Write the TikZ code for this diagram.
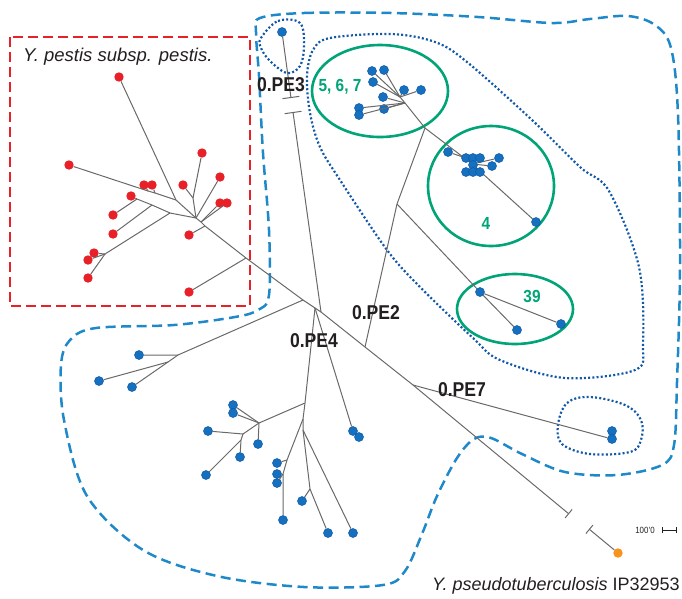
\documentclass[tikz,border=0pt]{standalone}
\usepackage{fontspec}
\setmainfont{Liberation Sans}
\usetikzlibrary{arrows.meta}
\definecolor{pred}{RGB}{232,32,40}
\definecolor{pblue}{RGB}{22,112,192}
\definecolor{pblueD}{RGB}{12,88,160}
\definecolor{pdash}{RGB}{30,136,200}
\definecolor{pdot}{RGB}{18,88,168}
\definecolor{pgreen}{RGB}{0,164,118}
\definecolor{porange}{RGB}{247,148,29}
\definecolor{gline}{RGB}{105,105,105}
\definecolor{ptext}{RGB}{35,31,32}
\def\cnd#1{\scalebox{.88}[1]{#1}}

\begin{document}
\begin{tikzpicture}[x=1pt,y=-1pt,
  br/.style={draw=gline,line width=1pt},
  tipR/.style={circle,fill=pred,inner sep=0pt,minimum size=9.4pt},
  tipB/.style={circle,fill=pblue,draw=pblueD,line width=.5pt,inner sep=0pt,minimum size=9pt},
  lbl/.style={font=\bfseries\fontsize{20}{20}\selectfont,text=ptext,inner sep=0pt},
  grp/.style={font=\bfseries\fontsize{17.5}{17.5}\selectfont,text=pgreen,inner sep=0pt},
  ring/.style={draw=pgreen,line width=2.6pt},
  redbox/.style={draw=pred,line width=2.6pt,dash pattern=on 10pt off 5pt},
  hull/.style={draw=pdash,line width=2.5pt,dash pattern=on 10pt off 5.5pt},
  clade/.style={draw=pdot,line width=2.2pt,dash pattern=on 2pt off 2.2pt}]%<<<
\useasboundingbox (0,0) rectangle (682,598);
% outlines
\draw[redbox] (10,37) rectangle (250,306);
\draw[hull] plot[smooth cycle,tension=.55] coordinates {(260,18) (304,13) (391,13) (478,17) (552,23)
  (590,19) (628,16) (655,25) (671,48) (678,115) (680,267) (677,382) (674,445) (662,465) (617,475)
  (565,472) (522,454) (491,438) (474,439) (457,458) (437,496) (422,534) (405,571) (383,585)
  (304,587) (217,576) (143,550) (87,496) (64,420) (61,365) (70,340) (96,328) (174,325) (235,317)
  (258,310) (269,295) (269,230) (263,153) (259,76) (256,32)};
\draw[clade] plot[smooth cycle,tension=.55] coordinates {(313,50) (330,38) (391,34) (435,42) (467,62)
  (532,120) (580,167) (609,191) (639,267) (643,344) (635,370) (565,378) (500,360) (473,338)
  (420,287) (387,250) (340,180) (320,147) (310,113) (307,76)};
\draw[clade] plot[smooth cycle,tension=.6] coordinates {(261,38) (278,21) (300,23) (304,46) (300,66)
  (287,73) (270,61) (261,48)};
\draw[clade] plot[smooth cycle,tension=.6] coordinates {(558,425) (567,403) (590,397) (625,405)
  (641,420) (641,440) (630,452) (590,454) (562,444)};
\draw[ring] (380,91) ellipse [x radius=68pt,y radius=46pt];
\draw[ring] (491,186) ellipse [x radius=63pt,y radius=60pt];
\draw[ring] (515,309) ellipse [x radius=58pt,y radius=35pt];
% backbone
\coordinate (hR) at (196,218);
\coordinate (nE) at (201,222);
\coordinate (rb) at (205,226);
\coordinate (bk1) at (246,258);
\coordinate (bk2) at (303,300);
\coordinate (pe4) at (315,308);
\coordinate (pe3) at (321,312);
\coordinate (pe2) at (365,347);
\coordinate (pe7) at (413,385);
\coordinate (cut1) at (569,514);
\coordinate (cut2) at (589,529);
% Y. pestis subsp. pestis
\node[tipR] (r1) at (119,77) {};
\node[tipR] (r2) at (69,165) {};
\node[tipR] (r3) at (144,185) {};
\node[tipR] (r4) at (152,185) {};
\node[tipR] (r5) at (131,196) {};
\node[tipR] (r6) at (113,215) {};
\node[tipR] (r7) at (113,234) {};
\node[tipR] (r8) at (94,253) {};
\node[tipR] (r9) at (88,260) {};
\node[tipR] (r10) at (88,278) {};
\node[tipR] (r11) at (183,185) {};
\node[tipR] (r12) at (202,153) {};
\node[tipR] (r13) at (220,177) {};
\node[tipR] (r14) at (220,203) {};
\node[tipR] (r15) at (227,203) {};
\node[tipR] (r16) at (189,235) {};
\node[tipR] (r17) at (189,292) {};
\coordinate (nA) at (176,200);
\coordinate (s3) at (148,191);
\coordinate (s4) at (155,193);
\coordinate (nC) at (170,213);
\coordinate (s6) at (137,199);
\coordinate (s7) at (152,205);
\coordinate (rf) at (105,254);
\coordinate (nD) at (193,198);
\draw[br] (hR) -- (nA) -- (r1);
\draw[br] (nA) -- (s4) -- (s3) -- (r2);
\draw[br] (s3) -- (r3);
\draw[br] (s4) -- (r4);
\draw[br] (hR) -- (nC) -- (s7) -- (s6) -- (r5);
\draw[br] (s6) -- (r6);
\draw[br] (s7) -- (r7);
\draw[br] (nC) -- (rf) -- (r8);
\draw[br] (rf) -- (r9);
\draw[br] (rf) -- (r10);
\draw[br] (hR) -- (nD) -- (r11);
\draw[br] (nD) -- (r12);
\draw[br] (hR) -- (r13);
\draw[br] (nE) -- (r14);
\draw[br] (nE) -- (r15);
\draw[br] (rb) -- (r16);
\draw[br] (bk1) -- (r17);
% lower left
\node[tipB] (b1) at (139,355) {};
\node[tipB] (b2) at (99,381) {};
\node[tipB] (b3) at (132,387) {};
\coordinate (lc) at (178,355);
\coordinate (lc2) at (168,362);
\draw[br] (bk2) -- (lc) -- (b1);
\draw[br] (lc) -- (lc2) -- (b3);
\draw[br] (lc2) -- (b2);
% 0.PE4
\node[tipB] (q1) at (353,431) {};
\node[tipB] (q2) at (359,437) {};
\node[tipB] (u1) at (233,405) {};
\node[tipB] (u2) at (233,413) {};
\node[tipB] (u3) at (258,444) {};
\node[tipB] (u4) at (208,431) {};
\node[tipB] (u5) at (240,457) {};
\node[tipB] (u6) at (206,475) {};
\node[tipB] (t1) at (277,463) {};
\node[tipB] (t2) at (277,474) {};
\node[tipB] (t3) at (277,483) {};
\node[tipB] (t4) at (283,520) {};
\node[tipB] (v1) at (302,501) {};
\node[tipB] (v2) at (328,533) {};
\node[tipB] (v3) at (353,533) {};
\coordinate (pA) at (305,403);
\coordinate (pB) at (259,423);
\coordinate (pC) at (243,434);
\coordinate (pD) at (241,440);
\coordinate (pE) at (303,419);
\coordinate (pF) at (287,460);
\coordinate (pG) at (283,474);
\coordinate (pH) at (303,430);
\coordinate (pI) at (310,489);
\draw[br] (pe4) -- (pA) -- (pE) -- (pH) -- (v3);
\draw[br] (pA) -- (pB) -- (u1);
\draw[br] (pB) -- (u2);
\draw[br] (pB) -- (u3);
\draw[br] (pB) -- (pC) -- (u4);
\draw[br] (pC) -- (pD) -- (u5);
\draw[br] (pD) -- (u6);
\draw[br] (pE) -- (pF) -- (pG) -- (t4);
\draw[br] (pF) -- (t1);
\draw[br] (pG) -- (t2);
\draw[br] (pG) -- (t3);
\draw[br] (pH) -- (pI) -- (v1);
\draw[br] (pI) -- (v2);
\draw[br] (pe4) -- (q1);
% 0.PE3
\node[tipB] (d3) at (282,32) {};
\coordinate (t3a) at (291,98);
\coordinate (t3b) at (293,112);
\draw[br,-{Bar[width=17pt]}] (d3) -- (t3a);
\draw[br,{Bar[width=17pt]}-] (t3b) -- (pe3);
% 0.PE2
\node[tipB] (g1) at (372,71) {};
\node[tipB] (g2) at (384,70) {};
\node[tipB] (g3) at (373,82) {};
\node[tipB] (g4) at (404,90) {};
\node[tipB] (g5) at (421,90) {};
\node[tipB] (g6) at (383,97) {};
\node[tipB] (g7) at (359,108) {};
\node[tipB] (g8) at (359,115) {};
\node[tipB] (g9) at (384,109) {};
\coordinate (p2a) at (397,204);
\coordinate (p2b) at (425,128);
\coordinate (c5b) at (405,103);
\coordinate (c5a) at (400,97);
\coordinate (c4) at (472,164);
\coordinate (s4a) at (463,157);
\draw[br] (pe2) -- (p2a) -- (p2b) -- (c5b) -- (c5a) -- (g1);
\foreach \g in {g2,g3,g4,g5} \draw[br] (c5a) -- (\g);
\foreach \g in {g6,g7,g8,g9} \draw[br] (c5b) -- (\g);
\draw[br] (p2b) -- (s4a) -- (c4);
\node[tipB] (f1) at (448,152) {};
\node[tipB] (f5) at (499,158) {};
\node[tipB] (f6) at (492,166) {};
\node[tipB] (f11) at (536,222) {};
\draw[br] (s4a) -- (f1);
\foreach \f in {f5,f6,f11} \draw[br] (c4) -- (\f);
\node[tipB] (f2) at (466,158) {};
\node[tipB] (f3) at (473,158) {};
\node[tipB] (f4) at (480,158) {};
\node[tipB] (f7) at (473,165) {};
\node[tipB] (f8) at (466,172) {};
\node[tipB] (f9) at (473,172) {};
\node[tipB] (f10) at (480,172) {};
\node[tipB] (h1) at (480,292) {};
\node[tipB] (h2) at (517,330) {};
\node[tipB] (h3) at (561,324) {};
\draw[br] (p2a) -- (h1) -- (h2);
\draw[br] (h1) -- (h3);
% 0.PE7
\node[tipB] (k1) at (612,431) {};
\node[tipB] (k2) at (612,439) {};
\draw[br] (pe7) -- (k2);
% root
\node[circle,fill=porange,inner sep=0pt,minimum size=9.4pt] (o1) at (618,553) {};
\draw[br,-{Bar[width=11pt]}] (hR) -- (nE) -- (rb) -- (bk1) -- (bk2) -- (pe4) -- (pe3) -- (pe2) -- (pe7) -- (cut1);
\draw[br,{Bar[width=11pt]}-] (cut2) -- (o1);
% labels
\node[lbl] (lPE3) at (281,85) {\cnd{0.PE3}};
\node[lbl] (lPE2) at (376,313) {\cnd{0.PE2}};
\node[lbl] (lPE4) at (314,341) {\cnd{0.PE4}};
\node[lbl] (lPE7) at (462,390) {\cnd{0.PE7}};
\node[grp] (l567) at (340,87) {\cnd{5, 6, 7}};
\node[grp] (l4) at (486,223) {\cnd{4}};
\node[grp] (l39) at (532,296) {\cnd{39}};
\node[anchor=base west,inner sep=0pt,text=ptext,font=\itshape\fontsize{18.5}{18.5}\selectfont] (tPes) at (23,61) {Y. pestis subsp. pestis.};
\node[anchor=base west,inner sep=0pt,text=ptext,font=\fontsize{18}{18}\selectfont] (tPse) at (432,590) {\textit{Y. pseudotuberculosis} IP32953};
\node[inner sep=0pt,text=ptext,font=\fontsize{9}{9}\selectfont] (tScl) at (645,530) {\cnd{100'0}};
\coordinate (sbL) at (662,530);
\coordinate (sbR) at (677,530);
\draw[ptext,line width=.8pt,{Bar[width=6pt]}-{Bar[width=6pt]}] (sbL) -- (sbR);
\end{tikzpicture}
\end{document}
